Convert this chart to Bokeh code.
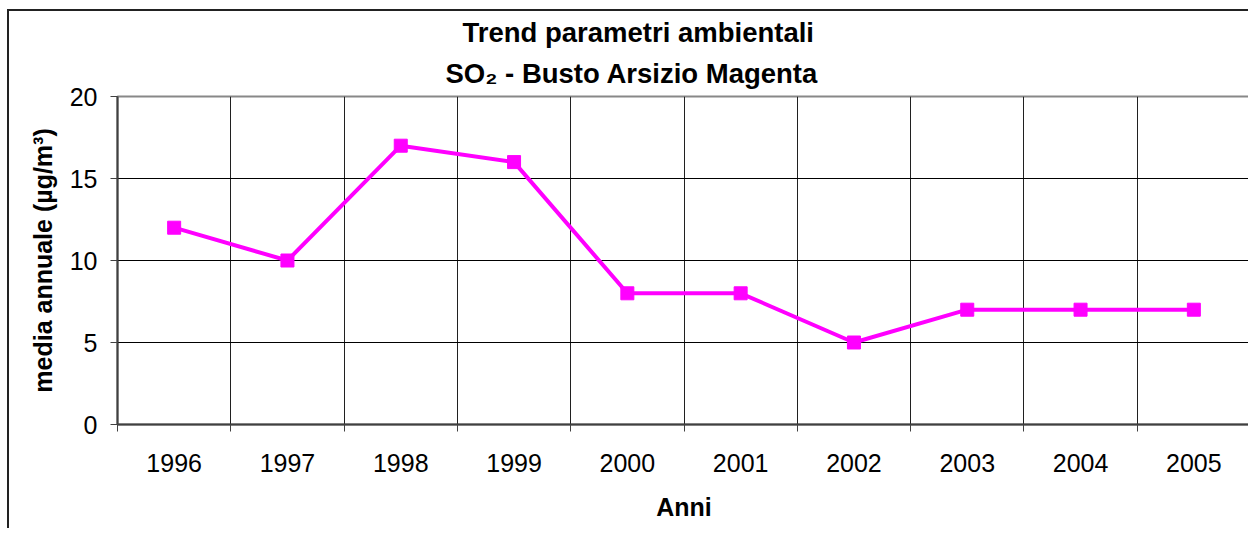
from bokeh.plotting import figure
from bokeh.models import Range1d, FixedTicker, Title
from bokeh.embed import file_html
from bokeh.resources import INLINE

years = ["1996", "1997", "1998", "1999", "2000", "2001", "2002", "2003", "2004", "2005"]
so2 = [12, 10, 17, 16, 8, 8, 5, 7, 7, 7]
y_ticks = [0, 5, 10, 15, 20]
title_1 = "Trend parametri ambientali"
title_2 = "SO\u2082 -  Busto Arsizio Magenta"
x_title = "Anni"
y_title = "media annuale (\u00b5g/m\u00b3)"

FONT = "Liberation Sans"
n = len(years)
xc = [i + 0.5 for i in range(n)]

p = figure(width=1241, height=519, output_backend="svg", toolbar_location=None,
           x_range=Range1d(0, n), y_range=Range1d(0, 20),
           min_border_left=108, min_border_top=85, min_border_bottom=106, min_border_right=0)
p.styles = {"margin-left": "7px", "margin-top": "9px",
            "border-left": "2px solid #222222", "border-top": "2px solid #222222"}

p.background_fill_color = "white"
p.border_fill_color = "white"
p.outline_line_color = "#888888"
p.outline_line_width = 2

# x axis: labels at centers, tick marks at boundaries
p.xaxis.ticker = FixedTicker(ticks=xc, minor_ticks=list(range(n + 1)))
p.xaxis.major_label_overrides = {c: y for c, y in zip(xc, years)}
p.xaxis.major_tick_out = 0
p.xaxis.major_tick_in = 0
p.xaxis.minor_tick_out = 7
p.xaxis.minor_tick_in = 0
p.xaxis.minor_tick_line_color = "#404040"
p.xaxis.minor_tick_line_width = 1
p.xaxis.axis_line_color = "#404040"
p.xaxis.axis_line_width = 2
p.xaxis.major_label_text_font = FONT
p.xaxis.major_label_text_font_size = "25px"
p.xaxis.major_label_text_color = "black"
p.xaxis.major_label_standoff = 22
p.xaxis.axis_label = x_title
p.xaxis.axis_label_text_font = FONT
p.xaxis.axis_label_text_font_size = "25px"
p.xaxis.axis_label_text_font_style = "bold"
p.xaxis.axis_label_text_color = "black"
p.xaxis.axis_label_standoff = 18

# y axis
p.yaxis.ticker = FixedTicker(ticks=y_ticks)
p.yaxis.minor_tick_line_color = None
p.yaxis.major_tick_out = 7
p.yaxis.major_tick_in = 0
p.yaxis.major_tick_line_color = "#404040"
p.yaxis.axis_line_color = "#404040"
p.yaxis.axis_line_width = 2
p.yaxis.major_label_text_font = FONT
p.yaxis.major_label_text_font_size = "25px"
p.yaxis.major_label_text_color = "black"
p.yaxis.major_label_standoff = 13
p.yaxis.axis_label = y_title
p.yaxis.axis_label_text_font = FONT
p.yaxis.axis_label_text_font_size = "25px"
p.yaxis.axis_label_text_font_style = "bold"
p.yaxis.axis_label_text_color = "black"
p.yaxis.axis_label_standoff = 10

# grids
p.xgrid.ticker = FixedTicker(ticks=list(range(1, n)))
p.xgrid.grid_line_color = "#202020"
p.xgrid.grid_line_width = 1
p.ygrid.ticker = FixedTicker(ticks=y_ticks[1:-1])
p.ygrid.grid_line_color = "black"
p.ygrid.grid_line_width = 1

# series
p.line(xc, so2, line_color="#FF00FF", line_width=4)
p.scatter(xc, so2, marker="square", size=13, fill_color="#FF00FF", line_color="#FF00FF")

# two-line title (second line added first: nearest the plot)
p.add_layout(Title(text=title_2, align="left", offset=328, standoff=16,
                   text_font=FONT, text_font_size="27.5px", text_font_style="bold",
                   text_color="black"), "above")
p.add_layout(Title(text=title_1, align="left", offset=345, standoff=0,
                   text_font=FONT, text_font_size="27.5px", text_font_style="bold",
                   text_color="black"), "above")

open("out.html", "w").write(file_html(p, INLINE))
